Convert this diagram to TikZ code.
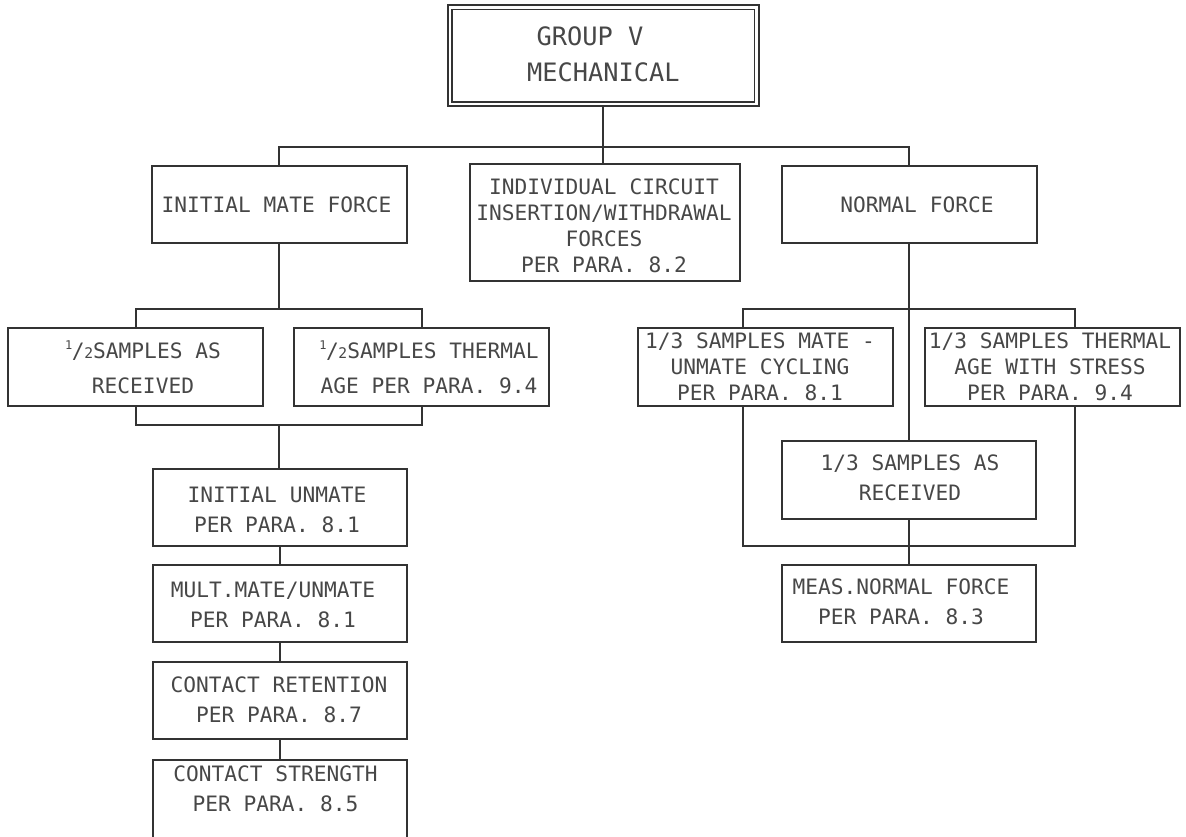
\documentclass[tikz,border=0pt]{standalone}
\usepackage{fontspec}
\newfontfamily\cad{DejaVu Sans Mono}
\usetikzlibrary{calc}
\newcommand\halffrac{\raisebox{0.42em}{\fontsize{9pt}{9pt}\selectfont 1}\kern-0.3pt/\kern-0.3pt{\fontsize{11pt}{11pt}\selectfont 2}}
\begin{document}
\begin{tikzpicture}[x=0.75pt,y=-0.75pt,
  box/.style={draw=black!80, line width=1.35pt, rectangle, inner sep=0pt, outer sep=0pt,
              minimum width=191.25pt, minimum height=58.1pt},
  conn/.style={draw=black!80, line width=1.35pt},
  lbl/.style={text=black!72, inner sep=0pt, align=center, text height=11.6pt, text depth=0pt,
              font=\cad\fontsize{15.9pt}{19.5pt}\selectfont},
  sp30/.style={font=\cad\fontsize{15.9pt}{22.5pt}\selectfont},
  sp35/.style={font=\cad\fontsize{15.9pt}{26.3pt}\selectfont}]
\useasboundingbox (0,0) rectangle (1186,836);
\clip (0,0) rectangle (1186,836);

% ---- boxes ----
\node[box, double, line width=1.2pt, double distance=2pt, minimum width=230.2pt, minimum height=72.6pt, outer sep=2.2pt] (top) at (603.3,55.6) {};
\node[box] (IMF) at (279.2,204.5) {};
\node[box, minimum width=202.5pt, minimum height=87.5pt] (IND) at (605,222.65) {};
\node[box] (NF) at (909.2,204.5) {};
\node[box] (HA) at (135.8,367) {};
\node[box] (HT) at (421.75,367) {};
\node[box] (TL) at (765.8,367) {};
\node[box] (TR) at (1052.5,367) {};
\node[box, minimum width=190.7pt] (TM) at (908.85,480) {};
\node[box, minimum width=190.7pt] (MN) at (908.85,603.65) {};
\node[box, minimum width=190.5pt] (L1) at (279.7,507.5) {};
\node[box, minimum width=190.5pt] (L2) at (279.7,603.5) {};
\node[box, minimum width=190.5pt] (L3) at (279.7,700.5) {};
\node[box, minimum width=190.5pt] (L4) at (279.7,799) {};

% ---- texts (each node is placed by the centre of its last line) ----
\node[lbl, font=\cad\fontsize{19pt}{26.6pt}\selectfont, text height=13.85pt] (topt) at (603.3,72.2) {GROUP V\hspace*{20pt}\\MECHANICAL};
\node[lbl] (IMFt) at (276.5,204.5) {INITIAL MATE FORCE};
\node[lbl] (INDt) at (604,265) {INDIVIDUAL CIRCUIT\\INSERTION/WITHDRAWAL\\FORCES\\PER PARA. 8.2};
\node[lbl] (NFt) at (917,204.5) {NORMAL FORCE};
\node[lbl, sp35] (HAt) at (143,385.8) {\halffrac SAMPLES AS\\RECEIVED};
\node[lbl, sp35] (HTt) at (429,385.8) {\halffrac SAMPLES THERMAL\\AGE PER PARA. 9.4};
\node[lbl] (TLt) at (760,393) {1/3 SAMPLES MATE -\\UNMATE CYCLING\\PER PARA. 8.1};
\node[lbl] (TRt) at (1050,393) {1/3 SAMPLES THERMAL\\AGE WITH STRESS\\PER PARA. 9.4};
\node[lbl, sp30] (TMt) at (910,492.5) {1/3 SAMPLES AS\\RECEIVED};
\node[lbl, sp30] (MNt) at (901,617) {MEAS.NORMAL FORCE\\PER PARA. 8.3};
\node[lbl, sp30] (L1t) at (277,525) {INITIAL UNMATE\\PER PARA. 8.1};
\node[lbl, sp30] (L2t) at (273,620) {MULT.MATE/UNMATE\\PER PARA. 8.1};
\node[lbl, sp30] (L3t) at (279,715) {CONTACT RETENTION\\PER PARA. 8.7};
\node[lbl, sp30] (L4t) at (275.5,803.3) {CONTACT STRENGTH\\PER PARA. 8.5};

% ---- connectors ----
\coordinate (bus1) at (603.3,146.7);
\draw[conn] (top.south) -- (bus1);
\draw[conn] (bus1) -- (IND.north -| bus1);
\draw[conn] (IMF.north) |- (bus1) -| (NF.north);

\coordinate (bus2) at (278.7,309);
\draw[conn] (IMF.south) -- (IMF.south |- bus2);
\draw[conn] (HA.north) |- (bus2) -| (HT.north);
\coordinate (bus3) at (278.7,425);
\draw[conn] (HA.south) |- (bus3) -| (HT.south);
\draw[conn] (bus3) -- (L1.north -| bus3);
\draw[conn] (L1.south) -- (L2.north);
\draw[conn] (L2.south) -- (L3.north);
\draw[conn] (L3.south) -- (L4.north);

\coordinate (tlx) at (743.3,309);
\coordinate (trx) at (1075,309);
\draw[conn] (NF.south) -- (NF.south |- TM.north);
\draw[conn] (TL.north -| tlx) -- (tlx) -- (trx) -- (TR.north -| trx);
\coordinate (bus5) at (909,545.7);
\draw[conn] (TL.south -| tlx) |- (bus5) -| (TR.south -| trx);
\draw[conn] (TM.south) -- (MN.north);
\end{tikzpicture}
\end{document}
